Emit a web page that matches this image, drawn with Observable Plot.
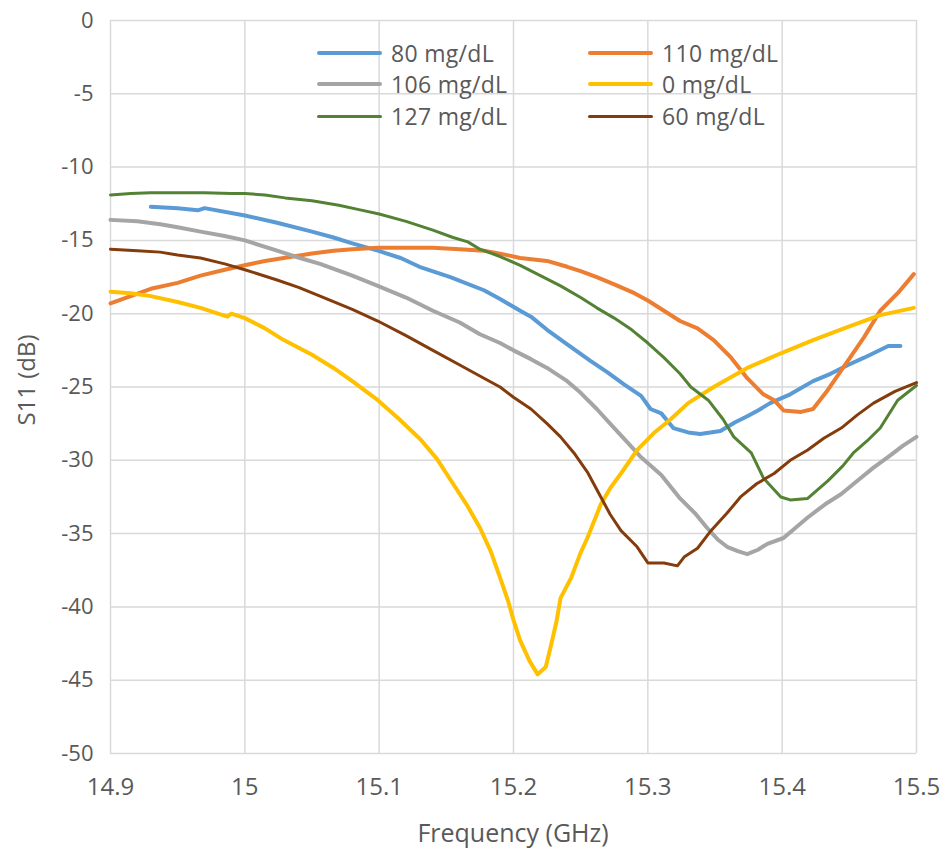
<!DOCTYPE html>
<html>
<head>
<meta charset="utf-8">
<script src="https://cdn.jsdelivr.net/npm/d3@7"></script>
<script src="https://cdn.jsdelivr.net/npm/@observablehq/plot@0.6"></script>
<style>
  html, body { margin: 0; padding: 0; background: #fff; }
  #wrap { position: relative; width: 947px; height: 861px; font-family: "Open Sans", sans-serif; color: #595959; }
  #legend { position: absolute; left: 0; top: 0; }
  .lg { position: absolute; display: flex; align-items: center; font-size: 23px; letter-spacing: 0.3px; white-space: nowrap; }
  .lg span.sw { display: inline-block; width: 65px; margin-right: 9px; border-radius: 2px; }
  #xtitle { position: absolute; left: 110px; width: 806px; top: 815px; text-align: center; font-size: 25px; }
  #ytitle { position: absolute; left: 25px; top: 380px; transform: translate(-50%, -50%) rotate(-90deg); font-size: 24px; white-space: nowrap; }
</style>
</head>
<body>
<div id="wrap"></div>
<script>
// ---- Data ----
const xTicks = [14.9, 15.0, 15.1, 15.2, 15.3, 15.4, 15.5];
const yTicks = [0, -5, -10, -15, -20, -25, -30, -35, -40, -45, -50];

const seriesNames = ["80 mg/dL", "110 mg/dL", "106 mg/dL", "0 mg/dL", "127 mg/dL", "60 mg/dL"];
const seriesColors = ["#5B9BD5", "#ED7D31", "#A5A5A5", "#FFC000", "#548235", "#843C0C"];
const seriesWidths = [4, 4, 4, 4, 3, 3];

const f80 = [14.93,14.95,14.965,14.97,15.0,15.024,15.05,15.066,15.08,15.099,15.116,15.13,15.153,15.178,15.19,15.205,15.213,15.225,15.24,15.257,15.27,15.282,15.295,15.302,15.31,15.319,15.33,15.339,15.354,15.365,15.374,15.382,15.391,15.406,15.423,15.436,15.449,15.461,15.479,15.488];
const s80 = [-12.7,-12.8,-12.95,-12.8,-13.3,-13.8,-14.4,-14.8,-15.2,-15.7,-16.2,-16.8,-17.5,-18.4,-19.0,-19.8,-20.2,-21.1,-22.1,-23.2,-24.0,-24.8,-25.6,-26.5,-26.8,-27.8,-28.1,-28.2,-28.0,-27.4,-27.0,-26.6,-26.1,-25.5,-24.6,-24.1,-23.5,-23.0,-22.2,-22.2];

const f110 = [14.9,14.915,14.93,14.95,14.967,14.985,15.0,15.015,15.029,15.05,15.066,15.08,15.099,15.12,15.14,15.16,15.178,15.19,15.205,15.225,15.24,15.25,15.262,15.275,15.29,15.3,15.312,15.324,15.337,15.349,15.362,15.374,15.386,15.394,15.401,15.414,15.423,15.434,15.449,15.461,15.473,15.486,15.498];
const s110 = [-19.3,-18.8,-18.3,-17.9,-17.4,-17.0,-16.7,-16.4,-16.2,-15.9,-15.7,-15.6,-15.5,-15.5,-15.5,-15.6,-15.7,-15.9,-16.2,-16.4,-16.8,-17.1,-17.5,-18.0,-18.6,-19.1,-19.8,-20.5,-21.0,-21.8,-23.0,-24.4,-25.5,-25.9,-26.6,-26.7,-26.5,-25.2,-23.2,-21.6,-19.8,-18.6,-17.3];

const f106 = [14.9,14.92,14.937,14.95,14.967,14.985,15.0,15.024,15.041,15.056,15.08,15.099,15.12,15.14,15.16,15.175,15.19,15.2,15.213,15.225,15.24,15.25,15.262,15.275,15.285,15.295,15.31,15.324,15.335,15.344,15.352,15.359,15.367,15.374,15.382,15.389,15.401,15.41,15.419,15.432,15.444,15.456,15.468,15.48,15.49,15.5];
const s106 = [-13.6,-13.7,-13.9,-14.1,-14.4,-14.7,-15.0,-15.7,-16.2,-16.6,-17.4,-18.1,-18.9,-19.8,-20.6,-21.4,-22.0,-22.5,-23.1,-23.7,-24.6,-25.4,-26.5,-27.8,-28.8,-29.8,-31.0,-32.6,-33.6,-34.6,-35.4,-35.9,-36.2,-36.4,-36.1,-35.7,-35.3,-34.6,-33.9,-33.0,-32.3,-31.4,-30.5,-29.7,-29.0,-28.4];

const f0 = [14.9,14.915,14.93,14.95,14.967,14.987,14.99,15.0,15.015,15.029,15.05,15.066,15.08,15.099,15.115,15.131,15.143,15.155,15.165,15.175,15.183,15.19,15.196,15.2,15.205,15.212,15.218,15.224,15.228,15.232,15.235,15.243,15.25,15.255,15.265,15.272,15.28,15.292,15.305,15.317,15.33,15.349,15.374,15.399,15.423,15.449,15.473,15.498];
const s0 = [-18.5,-18.6,-18.8,-19.2,-19.6,-20.2,-20.0,-20.3,-21.0,-21.8,-22.8,-23.7,-24.6,-25.9,-27.2,-28.6,-29.9,-31.6,-33.0,-34.6,-36.2,-38.0,-39.6,-40.9,-42.3,-43.7,-44.6,-44.1,-42.6,-41.0,-39.4,-38.0,-36.3,-35.3,-33.0,-31.9,-30.9,-29.3,-28.1,-27.2,-26.1,-25.0,-23.7,-22.7,-21.8,-20.9,-20.1,-19.6];

const f127 = [14.9,14.915,14.93,14.95,14.97,14.99,15.0,15.015,15.03,15.05,15.07,15.085,15.1,15.12,15.14,15.155,15.166,15.175,15.19,15.205,15.22,15.235,15.25,15.262,15.275,15.288,15.3,15.312,15.324,15.332,15.345,15.356,15.364,15.377,15.386,15.399,15.406,15.419,15.434,15.445,15.453,15.463,15.473,15.486,15.5];
const s127 = [-11.9,-11.8,-11.75,-11.75,-11.75,-11.8,-11.8,-11.9,-12.1,-12.3,-12.6,-12.9,-13.2,-13.7,-14.3,-14.8,-15.1,-15.6,-16.1,-16.7,-17.4,-18.1,-18.9,-19.6,-20.3,-21.1,-22.0,-23.0,-24.1,-25.0,-25.9,-27.2,-28.4,-29.5,-31.2,-32.5,-32.7,-32.6,-31.4,-30.4,-29.5,-28.7,-27.8,-25.9,-24.9];

const f60 = [14.9,14.92,14.937,14.95,14.967,14.985,15.0,15.024,15.04,15.056,15.08,15.099,15.12,15.14,15.16,15.178,15.19,15.2,15.213,15.225,15.235,15.245,15.255,15.265,15.272,15.28,15.292,15.3,15.312,15.322,15.327,15.337,15.347,15.359,15.369,15.381,15.394,15.406,15.419,15.431,15.444,15.456,15.468,15.484,15.5];
const s60 = [-15.6,-15.7,-15.8,-16.0,-16.2,-16.6,-17.0,-17.7,-18.2,-18.8,-19.7,-20.5,-21.5,-22.5,-23.5,-24.4,-25.0,-25.7,-26.5,-27.5,-28.4,-29.5,-30.8,-32.5,-33.7,-34.8,-35.9,-37.0,-37.0,-37.2,-36.6,-36.0,-34.8,-33.6,-32.5,-31.6,-30.9,-30.0,-29.3,-28.5,-27.8,-26.9,-26.1,-25.3,-24.7];

const freqs = [f80, f110, f106, f0, f127, f60];
const vals = [s80, s110, s106, s0, s127, s60];

// ---- Build table ----
const table = [];
seriesNames.forEach((name, i) => {
  freqs[i].forEach((f, j) => table.push({ series: name, f, s11: vals[i][j] }));
});

const fmtX = d => String(+d.toFixed(1));
const fmtY = d => String(d);

const lineMarks = seriesNames.map((name, i) =>
  Plot.line(table.filter(d => d.series === name), {
    x: "f", y: "s11", stroke: seriesColors[i], strokeWidth: seriesWidths[i],
    strokeLinejoin: "round", strokeLinecap: "round"
  })
);

const hasAxisMarks = typeof Plot.axisX === "function";

const marks = [
  Plot.ruleX(xTicks, { stroke: "#d9d9d9", strokeWidth: 1.5 }),
  Plot.ruleY(yTicks, { stroke: "#d9d9d9", strokeWidth: 1.5 }),
  ...lineMarks
];
if (hasAxisMarks) {
  marks.push(
    Plot.axisX({ ticks: xTicks, tickSize: 0, tickPadding: 24, tickFormat: fmtX, fontSize: 24, label: null, fill: "#595959" }),
    Plot.axisY({ ticks: yTicks, tickSize: 0, tickPadding: 17, tickFormat: fmtY, fontSize: 22, label: null, fill: "#595959" })
  );
}

const chart = Plot.plot({
  width: 947,
  height: 861,
  marginLeft: 110,
  marginRight: 31,
  marginTop: 20,
  marginBottom: 108,
  style: { fontFamily: "Open Sans, sans-serif", fontSize: "22px", color: "#595959", background: "#fff", overflow: "visible" },
  x: { domain: [14.9, 15.5], ticks: xTicks, tickSize: 0, tickPadding: 24, tickFormat: fmtX, label: null, axis: hasAxisMarks ? null : "bottom" },
  y: { domain: [-50, 0], ticks: yTicks, tickSize: 0, tickPadding: 17, tickFormat: fmtY, label: null, axis: hasAxisMarks ? null : "left" },
  marks
});

const wrap = document.getElementById("wrap");
wrap.appendChild(chart);

// ---- Legend (HTML overlay, 2 columns) ----
const legend = document.createElement("div");
legend.id = "legend";
const colX = [317, 588];
const rowY = [53, 84, 116];
seriesNames.forEach((name, i) => {
  const col = i % 2, row = Math.floor(i / 2);
  const item = document.createElement("div");
  item.className = "lg";
  item.style.left = colX[col] + "px";
  item.style.top = (rowY[row] - 16) + "px";
  item.style.height = "32px";
  const sw = document.createElement("span");
  sw.className = "sw";
  sw.style.height = seriesWidths[i] + "px";
  sw.style.background = seriesColors[i];
  const tx = document.createElement("span");
  tx.textContent = name;
  item.appendChild(sw);
  item.appendChild(tx);
  legend.appendChild(item);
});
wrap.appendChild(legend);

// ---- Axis titles ----
const xt = document.createElement("div");
xt.id = "xtitle"; xt.textContent = "Frequency (GHz)";
wrap.appendChild(xt);
const yt = document.createElement("div");
yt.id = "ytitle"; yt.textContent = "S11 (dB)";
wrap.appendChild(yt);
</script>
</body>
</html>
